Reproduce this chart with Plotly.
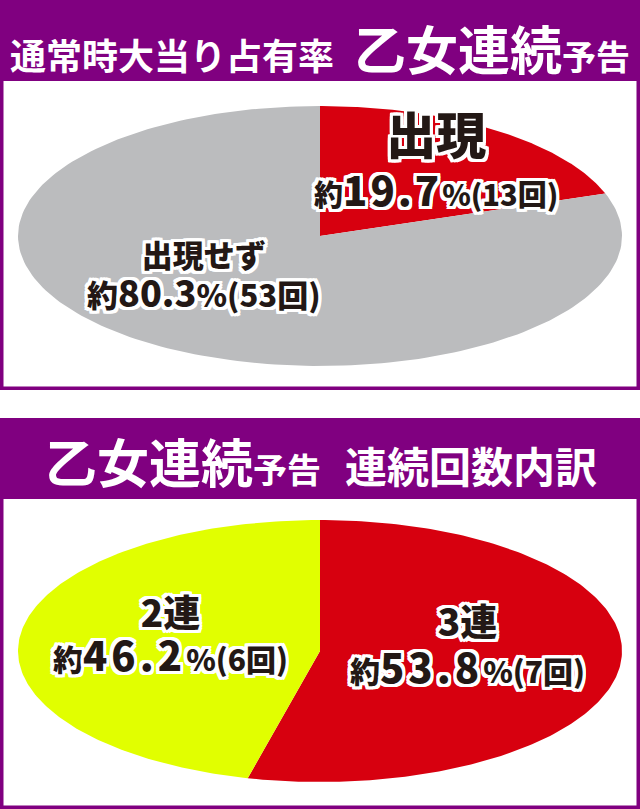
import numpy as np
import plotly.graph_objects as go

# --- data ---
header1_small = "通常時大当り占有率"
header1_big = "乙女連続"
header1_tail = "予告"
header2_big = "乙女連続"
header2_tail = "予告"
header2_rest = "連続回数内訳"

pie1_labels = ["出現", "出現せず"]
pie1_counts = [13, 53]
pie1_pcts = ["19.7", "80.3"]
pie1_colors = ["#D7000F", "#BBBCBE"]

pie2_labels = ["3連", "2連"]
pie2_counts = [7, 6]
pie2_pcts = ["53.8", "46.2"]
pie2_colors = ["#D7000F", "#E1FF00"]

W, H = 640, 809
PURPLE = "#800080"
INK = "#231815"
FONT = "Noto Sans CJK JP"


def px(x):
    return x / W


def py(y):
    return 1 - y / H


def outline(c="#fff", r=3):
    parts = []
    for dx, dy in [(r, 0), (-r, 0), (0, r), (0, -r), (r, r), (-r, -r), (r, -r), (-r, r),
                   (r, r // 2), (-r, r // 2), (r, -r // 2), (-r, -r // 2),
                   (r // 2, r), (-r // 2, r), (r // 2, -r), (-r // 2, -r)]:
        parts.append(f"{dx}px {dy}px 0 {c}")
    return ", ".join(parts)


def wedges(counts, colors, xa, ya):
    # slices start at 12 o'clock and run clockwise
    total = sum(counts)
    traces = []
    start = 0
    for n, col in zip(counts, colors):
        a0 = np.pi / 2 - 2 * np.pi * start / total
        a1 = np.pi / 2 - 2 * np.pi * (start + n) / total
        t = np.linspace(a0, a1, 200)
        xs = np.concatenate([[0], np.cos(t), [0]])
        ys = np.concatenate([[0], np.sin(t), [0]])
        traces.append(go.Scatter(x=xs, y=ys, fill="toself", fillcolor=col, mode="lines",
                                 line=dict(width=0, color=col), hoverinfo="skip",
                                 xaxis=xa, yaxis=ya))
        start += n
    return traces


fig = go.Figure()
for tr in wedges(pie1_counts, pie1_colors, "x", "y"):
    fig.add_trace(tr)
for tr in wedges(pie2_counts, pie2_colors, "x2", "y2"):
    fig.add_trace(tr)

ax = dict(range=[-1, 1], visible=False, fixedrange=True)
fig.update_layout(
    xaxis=dict(ax, domain=[px(18), px(622)]),
    yaxis=dict(ax, domain=[py(366), py(106)]),
    xaxis2=dict(ax, domain=[px(18), px(622)], anchor="y2"),
    yaxis2=dict(ax, domain=[py(782), py(520)], anchor="x2"),
)

# panel frames
shapes = []
for top, bot, hb in [(0, 390, 81), (418, 809, 499)]:
    shapes.append(dict(type="rect", xref="paper", yref="paper", layer="below",
                       x0=px(1.75), x1=px(638.25), y0=py(bot - 1.75), y1=py(top + 1.75),
                       line=dict(color=PURPLE, width=3.5), fillcolor="white"))
    shapes.append(dict(type="rect", xref="paper", yref="paper", layer="below",
                       x0=0, x1=1, y0=py(hb), y1=py(top),
                       line=dict(width=0), fillcolor=PURPLE))

annotations = []


def note(x, y, text, font):
    annotations.append(dict(xref="paper", yref="paper", x=px(x), y=py(y),
                            xanchor="center", yanchor="middle", showarrow=False,
                            text=text, font=font))


# headers
note(320, 47,
     f'{header1_small}<span style="font-size:20px">　</span>'
     f'<span style="font-size:52px">{header1_big}</span>'
     f'<span style="font-size:34px">{header1_tail}</span>',
     dict(family=FONT, size=36, color="white", weight=700))
note(321, 460,
     f'<span style="font-size:52px">{header2_big}</span>'
     f'<span style="font-size:34px">{header2_tail}</span>'
     f'<span style="font-size:24px">　</span>{header2_rest}',
     dict(family=FONT, size=42, color="white", weight=700))


def slice_text(name, name_size, pct, n, big, small, spacing):
    return (f'<span style="font-size:{name_size}px">{name}</span><br>'
            f'<span style="font-size:{small}px">約</span>'
            f'<span style="font-size:{big}px;letter-spacing:{spacing}px">{pct}</span>'
            f'<span style="font-size:{small}px">%(</span>'
            f'<span style="font-size:{small}px">{n}回)</span>')


label_font = dict(family=FONT, color=INK, weight=900, shadow=outline())

# pie 1 labels (line gap comes from the base font size)
note(436, 157, slice_text(pie1_labels[0], 50, pie1_pcts[0], pie1_counts[0], 40, 29, 3),
     dict(label_font, size=40))
note(204, 274, slice_text(pie1_labels[1], 31, pie1_pcts[1], pie1_counts[1], 36, 31, 0),
     dict(label_font, size=31))

# pie 2 labels
note(467, 644, slice_text(pie2_labels[0], 37, pie2_pcts[0], pie2_counts[0], 40, 30, 4),
     dict(label_font, size=36))
note(170, 633, slice_text(pie2_labels[1], 37, pie2_pcts[1], pie2_counts[1], 40, 30, 4),
     dict(label_font, size=34))

fig.update_layout(
    width=W, height=H,
    margin=dict(l=0, r=0, t=0, b=0),
    paper_bgcolor="white", plot_bgcolor="rgba(0,0,0,0)",
    showlegend=False,
    shapes=shapes,
    annotations=annotations,
)

fig.write_html("out.html", config={"displayModeBar": False},
               post_script="document.body.style.margin='0';")
